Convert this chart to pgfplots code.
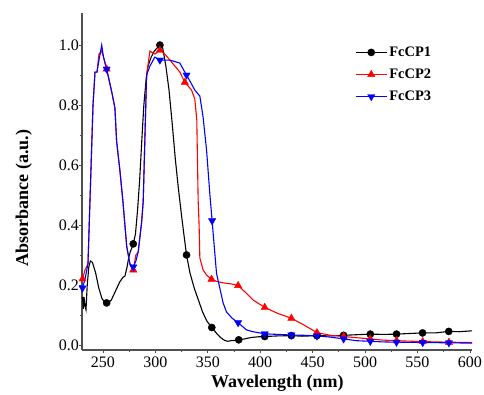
\documentclass[border=0pt]{standalone}
\usepackage{fontspec}
\setmainfont{Liberation Serif}
\usepackage{pgfplots}
\pgfplotsset{compat=1.18}
\definecolor{axgray}{RGB}{80,80,80}
\pgfplotsset{legimg/.style={legend image code/.code={\draw[#1, line width=1.1pt] (0pt,0pt) -- (31pt,0pt); \draw[##1] plot coordinates {(15.5pt,0pt)};}}}
\begin{document}
\begin{tikzpicture}
\useasboundingbox (-82pt,-44pt) rectangle (402pt,350pt);
\begin{axis}[
  at={(0,0)}, anchor=south west,
  scale only axis, width=390pt, height=337pt,
  xmin=230, xmax=602, ymin=-0.017, ymax=1.107,
  axis lines*=left,
  axis line style={axgray, line width=1.2pt},
  every tick/.style={axgray, line width=0.8pt},
  tick align=outside,
  major tick length=3pt, minor tick length=2pt,
  xtick={250,300,...,600},
  ytick={0,0.2,0.4,0.6,0.8,1.0},
  minor x tick num=1, minor y tick num=1,
  /pgf/number format/assume math mode=true,
  xticklabel={\pgfmathprintnumber[fixed,precision=0,1000 sep={}]{\tick}},
  yticklabel={\pgfmathprintnumber[fixed,fixed zerofill,precision=1]{\tick}},
  yticklabel style={inner xsep=0pt},
  tick label style={font=\fontsize{16}{16}\selectfont},
  xlabel={\textbf{Wavelength (nm)}},
  ylabel={\textbf{Absorbance (a.u.)}},
  label style={font=\fontsize{18}{18}\selectfont},
  xlabel style={at={(axis description cs:0.501,-0.098)}, anchor=center},
  ylabel style={at={(axis description cs:-0.149,0.451)}, anchor=center},
  legend style={draw=none, fill=none, at={(axis description cs:0.70,0.906)}, anchor=north west,
    font=\fontsize{14.5}{14.5}\selectfont\bfseries, row sep=7pt, inner sep=0pt},
  legend cell align=left,
]
% ---------- FcCP1 ----------
\addplot[black, line width=1.1pt, forget plot] coordinates {
(230.5,0.16) (231.3,0.12) (231.9,0.16) (232.9,0.13) (233.8,0.117) (235,0.2) (236.5,0.26) (238,0.28) (240,0.275)
(243,0.24) (246,0.19) (249,0.155) (252,0.14) (255,0.14) (258,0.15) (262,0.18) (266,0.21) (269,0.225) (271,0.23)
(273,0.26) (274.5,0.29) (276,0.31) (278.9,0.337) (281,0.37) (283,0.45) (285,0.55) (287,0.68) (289,0.80) (291,0.88)
(293,0.93) (296,0.96) (299,0.98) (301.5,0.99) (304.3,1.0) (307,0.99) (310,0.93) (313,0.85) (316,0.74) (319,0.62)
(322,0.52) (325,0.43) (327.5,0.36) (329.7,0.30) (333,0.24) (337,0.19) (341,0.15) (345,0.11) (349,0.08) (353.8,0.058)
(358,0.04) (362,0.025) (366,0.015) (369,0.012) (372,0.014) (376,0.015) (379.5,0.017) (385,0.02) (392,0.025)
(398,0.027) (404.3,0.028) (417,0.03) (429.7,0.031) (440,0.029) (454,0.031) (467,0.03) (479.5,0.032) (492,0.034)
(505,0.036) (518,0.035) (530,0.036) (542,0.038) (554.8,0.04) (567,0.04) (579.8,0.045) (590,0.044) (602,0.047)
};
\addplot[black, only marks, mark=*, mark size=3.6pt, legimg=black]
coordinates {
(253.5,0.14) (278.9,0.337) (304.3,1.0) (329.7,0.30) (353.8,0.058) (379.5,0.017) (404.3,0.028) (429.7,0.031)
(454,0.031) (479.5,0.032) (505,0.036) (530,0.036) (554.8,0.04) (579.8,0.045)
};
\addlegendentry{FcCP1}
% ---------- FcCP2 ----------
\addplot[red, line width=1.1pt, forget plot] coordinates {
(230.5,0.22) (232.9,0.25) (235.7,0.27) (237.6,0.48) (240.5,0.80) (242.4,0.91) (244.3,0.91) (246.2,0.97) (248.8,0.98)
(250.5,0.96) (253.5,0.92) (256.7,0.87) (258.6,0.84) (261.4,0.79) (263,0.68) (266.2,0.58) (269,0.48) (272.6,0.33)
(275.7,0.27) (278.9,0.25) (281.4,0.30) (283.6,0.31) (286.9,0.41) (288.4,0.48) (291.6,0.90) (294.8,0.98) (299.5,0.97)
(304.3,0.983) (309,0.97) (313.8,0.95) (318.6,0.93) (323.3,0.91) (328.1,0.876) (334.5,0.85) (337.6,0.82) (339.5,0.75)
(340.8,0.48) (341.7,0.40) (342.4,0.29) (345.5,0.25) (348.8,0.233) (353.5,0.219) (358.3,0.212) (364.6,0.207)
(372.9,0.203) (378.9,0.198) (386.9,0.172) (393.1,0.15) (404.3,0.125) (416.7,0.105) (429.7,0.089) (442.4,0.065)
(454.1,0.041) (467,0.032) (479.5,0.028) (492,0.024) (505,0.02) (517,0.016) (530,0.014) (555,0.011) (580,0.009) (602,0.008)
};
\addplot[red, only marks, mark=triangle*, mark size=4.2pt, legimg=red]
coordinates {
(230.5,0.22) (253.5,0.92) (278.9,0.25) (304.3,0.983) (328.1,0.876) (353.5,0.219) (378.9,0.198) (404.3,0.125)
(429.7,0.089) (454.1,0.041) (479.5,0.028) (505,0.02) (530,0.014) (555,0.011) (580,0.009)
};
\addlegendentry{FcCP2}
% ---------- FcCP3 ----------
\addplot[blue, line width=1.1pt, forget plot] coordinates {
(230.5,0.19) (232.9,0.22) (235.7,0.27) (237.6,0.48) (240.5,0.80) (242.4,0.91) (244.3,0.91) (246.2,0.95) (248.8,1.0)
(250.5,0.96) (253.5,0.92) (256.7,0.87) (258.6,0.84) (261.4,0.79) (263,0.68) (266.2,0.58) (269,0.48) (272.6,0.33)
(275.7,0.27) (278.9,0.26) (281.4,0.28) (283.6,0.31) (286.9,0.41) (288.4,0.48) (291.6,0.90) (294.8,0.93) (299.5,0.96)
(304.3,0.95) (309,0.95) (313.8,0.95) (318.6,0.945) (323.3,0.94) (329.7,0.90) (334.5,0.87) (337.6,0.85) (342.4,0.83)
(345.5,0.76) (348.8,0.65) (351.9,0.505) (354.1,0.414) (358.3,0.239) (364.6,0.14) (367.8,0.11) (372.9,0.09)
(378.9,0.074) (386.9,0.05) (393.1,0.044) (404.3,0.037) (416.7,0.035) (429.7,0.033) (442.4,0.032) (454.1,0.03)
(467,0.026) (479.5,0.02) (492,0.014) (505,0.012) (517,0.01) (530,0.009) (555,0.008) (580,0.007) (602,0.006)
};
\addplot[blue, only marks, mark=triangle*, mark options={rotate=180}, mark size=4.2pt, legimg=blue]
coordinates {
(230.5,0.19) (253.5,0.92) (278.9,0.26) (304.3,0.95) (329.7,0.90) (354.1,0.414) (378.9,0.074) (404.3,0.037)
(429.7,0.033) (454.1,0.03) (479.5,0.02) (505,0.012) (530,0.009) (555,0.008) (580,0.007)
};
\addlegendentry{FcCP3}
\end{axis}
\end{tikzpicture}
\end{document}
